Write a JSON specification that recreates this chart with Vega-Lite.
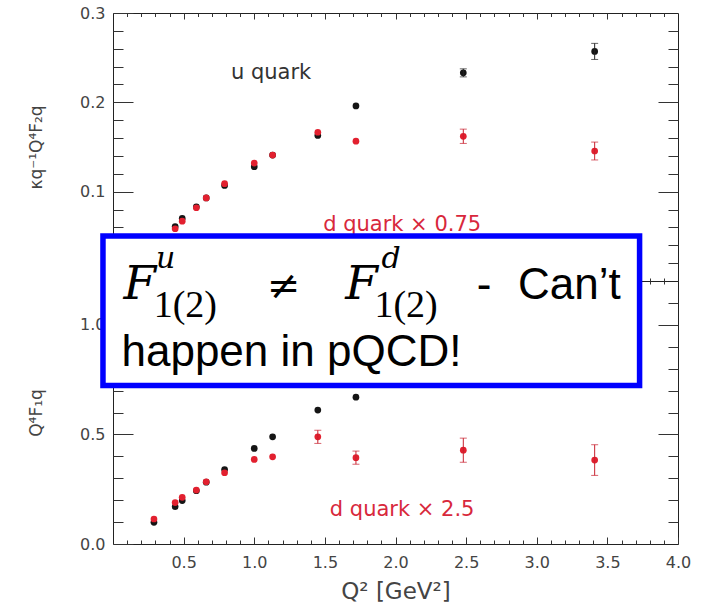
{
  "$schema": "https://vega.github.io/schema/vega-lite/v6.json",
  "background": "white",
  "padding": {"left": 27, "top": 4, "right": 5, "bottom": 5},
  "bounds": "flush",
  "spacing": 0,
  "config": {
    "view": {"stroke": "#222", "strokeWidth": 1},
    "axis": {
      "domain": false, "grid": false, "labelFont": "DejaVu Sans", "labelFontSize": 16,
      "labelColor": "#444", "tickColor": "#333", "tickWidth": 1, "titleFont": "DejaVu Sans",
      "titleFontWeight": "normal", "titleColor": "#444", "labelFlush": false, "labelOverlap": false,
      "format": ".1f"
    }
  },
  "datasets": {
    "f2": [
      {"quark": "u", "q2": 0.29, "val": 0.045, "err": 0},
      {"quark": "u", "q2": 0.44, "val": 0.061, "err": 0},
      {"quark": "u", "q2": 0.49, "val": 0.070, "err": 0},
      {"quark": "u", "q2": 0.59, "val": 0.083, "err": 0},
      {"quark": "u", "q2": 0.66, "val": 0.093, "err": 0},
      {"quark": "u", "q2": 0.79, "val": 0.107, "err": 0},
      {"quark": "u", "q2": 1.00, "val": 0.128, "err": 0},
      {"quark": "u", "q2": 1.13, "val": 0.141, "err": 0},
      {"quark": "u", "q2": 1.45, "val": 0.163, "err": 0},
      {"quark": "u", "q2": 1.72, "val": 0.196, "err": 0},
      {"quark": "u", "q2": 2.48, "val": 0.233, "err": 0.0045},
      {"quark": "u", "q2": 3.41, "val": 0.257, "err": 0.009},
      {"quark": "d", "q2": 0.29, "val": 0.043, "err": 0},
      {"quark": "d", "q2": 0.44, "val": 0.0585, "err": 0},
      {"quark": "d", "q2": 0.49, "val": 0.067, "err": 0},
      {"quark": "d", "q2": 0.59, "val": 0.082, "err": 0},
      {"quark": "d", "q2": 0.66, "val": 0.093, "err": 0},
      {"quark": "d", "q2": 0.79, "val": 0.109, "err": 0},
      {"quark": "d", "q2": 1.00, "val": 0.132, "err": 0},
      {"quark": "d", "q2": 1.13, "val": 0.141, "err": 0},
      {"quark": "d", "q2": 1.45, "val": 0.1665, "err": 0},
      {"quark": "d", "q2": 1.72, "val": 0.1565, "err": 0},
      {"quark": "d", "q2": 2.48, "val": 0.162, "err": 0.008},
      {"quark": "d", "q2": 3.41, "val": 0.1455, "err": 0.01}
    ],
    "f1": [
      {"quark": "u", "q2": 0.29, "val": 0.099, "err": 0},
      {"quark": "u", "q2": 0.44, "val": 0.170, "err": 0},
      {"quark": "u", "q2": 0.49, "val": 0.198, "err": 0},
      {"quark": "u", "q2": 0.59, "val": 0.243, "err": 0},
      {"quark": "u", "q2": 0.66, "val": 0.282, "err": 0},
      {"quark": "u", "q2": 0.79, "val": 0.340, "err": 0},
      {"quark": "u", "q2": 1.00, "val": 0.436, "err": 0},
      {"quark": "u", "q2": 1.13, "val": 0.489, "err": 0},
      {"quark": "u", "q2": 1.45, "val": 0.611, "err": 0},
      {"quark": "u", "q2": 1.72, "val": 0.670, "err": 0},
      {"quark": "u", "q2": 2.48, "val": 0.80, "err": 0},
      {"quark": "u", "q2": 3.41, "val": 0.88, "err": 0},
      {"quark": "d", "q2": 0.29, "val": 0.114, "err": 0},
      {"quark": "d", "q2": 0.44, "val": 0.189, "err": 0},
      {"quark": "d", "q2": 0.49, "val": 0.213, "err": 0},
      {"quark": "d", "q2": 0.59, "val": 0.246, "err": 0},
      {"quark": "d", "q2": 0.66, "val": 0.284, "err": 0},
      {"quark": "d", "q2": 0.79, "val": 0.325, "err": 0},
      {"quark": "d", "q2": 1.00, "val": 0.386, "err": 0},
      {"quark": "d", "q2": 1.13, "val": 0.398, "err": 0},
      {"quark": "d", "q2": 1.45, "val": 0.489, "err": 0.03},
      {"quark": "d", "q2": 1.72, "val": 0.394, "err": 0.03},
      {"quark": "d", "q2": 2.48, "val": 0.428, "err": 0.055},
      {"quark": "d", "q2": 3.41, "val": 0.383, "err": 0.07}
    ]
  },
  "vconcat": [
    {
      "width": 565, "height": 268,
      "resolve": {"axis": {"x": "independent", "y": "independent"}},
      "layer": [
        {
          "data": {"name": "f2"},
          "transform": [{"filter": "datum.quark == 'u'"}],
          "mark": {"type": "circle", "size": 45, "color": "#151515", "opacity": 1},
          "encoding": {
            "x": {"field": "q2", "type": "quantitative", "scale": {"domain": [0, 4], "nice": false},
              "axis": {"orient": "top", "values": [0.5, 1, 1.5, 2, 2.5, 3, 3.5], "offset": -6, "tickSize": 6, "labels": false, "title": null}},
            "y": {"field": "val", "type": "quantitative", "scale": {"domain": [0, 0.3], "nice": false},
              "axis": {"orient": "left", "values": [0.1, 0.2, 0.3], "offset": -20, "tickSize": 20, "labelPadding": 8, "title": "κq⁻¹Q⁴F₂q", "titleFontSize": 17, "titlePadding": 34}}
          }
        },
        {
          "data": {"name": "f2"},
          "transform": [{"filter": "datum.quark == 'd'"}],
          "mark": {"type": "circle", "size": 45, "color": "#e2202f", "opacity": 1},
          "encoding": {
            "x": {"field": "q2", "type": "quantitative",
              "axis": {"orient": "top", "values": [0.1,0.2,0.3,0.4,0.6,0.7,0.8,0.9,1.1,1.2,1.3,1.4,1.6,1.7,1.8,1.9,2.1,2.2,2.3,2.4,2.6,2.7,2.8,2.9,3.1,3.2,3.3,3.4,3.6,3.7,3.8,3.9], "offset": -3.5, "tickSize": 3.5, "labels": false, "title": null}},
            "y": {"field": "val", "type": "quantitative",
              "axis": {"orient": "left", "values": [0.02,0.04,0.06,0.08,0.12,0.14,0.16,0.18,0.22,0.24,0.26,0.28], "offset": -10, "tickSize": 10, "labels": false, "title": null}}
          }
        },
        {
          "data": {"name": "f2"},
          "transform": [{"filter": "datum.quark == 'u' && datum.err > 0"}],
          "mark": {"type": "errorbar", "ticks": {"size": 7}, "color": "#222", "thickness": 1},
          "encoding": {
            "x": {"field": "q2", "type": "quantitative",
              "axis": {"orient": "bottom", "values": [0.5, 1, 1.5, 2, 2.5, 3, 3.5], "offset": -3.5, "tickSize": 3.5, "labels": false, "title": null}},
            "y": {"field": "val", "type": "quantitative",
              "axis": {"orient": "right", "values": [0.1, 0.2], "offset": -20, "tickSize": 20, "labels": false, "title": null}},
            "yError": {"field": "err"}
          }
        },
        {
          "data": {"name": "f2"},
          "transform": [{"filter": "datum.quark == 'd' && datum.err > 0"}],
          "mark": {"type": "errorbar", "ticks": {"size": 7}, "color": "#c8202e", "thickness": 1},
          "encoding": {
            "x": {"field": "q2", "type": "quantitative",
              "axis": {"orient": "bottom", "values": [0.1,0.2,0.3,0.4,0.6,0.7,0.8,0.9,1.1,1.2,1.3,1.4,1.6,1.7,1.8,1.9,2.1,2.2,2.3,2.4,2.6,2.7,2.8,2.9,3.1,3.2,3.3,3.4,3.6,3.7,3.8,3.9], "offset": -3, "tickSize": 3, "labels": false, "title": null}},
            "y": {"field": "val", "type": "quantitative",
              "axis": {"orient": "right", "values": [0.02,0.04,0.06,0.08,0.12,0.14,0.16,0.18,0.22,0.24,0.26,0.28], "offset": -10, "tickSize": 10, "labels": false, "title": null}},
            "yError": {"field": "err"}
          }
        },
        {
          "data": {"values": [{"label": "u quark", "q2": 1.119, "val": 0.2265}]},
          "mark": {"type": "text", "font": "DejaVu Sans", "fontSize": 21, "color": "#333", "align": "center", "baseline": "alphabetic"},
          "encoding": {
            "x": {"field": "q2", "type": "quantitative", "axis": null},
            "y": {"field": "val", "type": "quantitative", "axis": null},
            "text": {"field": "label"}
          }
        },
        {
          "data": {"values": [{"label": "d quark × 0.75", "q2": 2.047, "val": 0.056}]},
          "mark": {"type": "text", "font": "DejaVu Sans", "fontSize": 21, "color": "#d8283c", "align": "center", "baseline": "alphabetic"},
          "encoding": {
            "x": {"field": "q2", "type": "quantitative", "axis": null},
            "y": {"field": "val", "type": "quantitative", "axis": null},
            "text": {"field": "label"}
          }
        }
      ]
    },
    {
      "width": 565, "height": 263,
      "resolve": {"axis": {"x": "independent", "y": "independent"}},
      "layer": [
        {
          "data": {"name": "f1"},
          "transform": [{"filter": "datum.quark == 'u'"}],
          "mark": {"type": "circle", "size": 45, "color": "#151515", "opacity": 1},
          "encoding": {
            "x": {"field": "q2", "type": "quantitative", "scale": {"domain": [0, 4], "nice": false},
              "axis": {"orient": "bottom", "values": [0.5, 1, 1.5, 2, 2.5, 3, 3.5, 4], "offset": -7, "tickSize": 7, "labelPadding": 10, "title": "Q² [GeV²]", "titleFontSize": 23, "titlePadding": 10}},
            "y": {"field": "val", "type": "quantitative", "scale": {"domain": [0, 1.2], "nice": false},
              "axis": {"orient": "left", "values": [0, 0.5, 1.0], "offset": -20, "tickSize": 20, "labelPadding": 8, "title": "Q⁴F₁q", "titleFontSize": 17, "titlePadding": 34}}
          }
        },
        {
          "data": {"name": "f1"},
          "transform": [{"filter": "datum.quark == 'd'"}],
          "mark": {"type": "circle", "size": 45, "color": "#e2202f", "opacity": 1},
          "encoding": {
            "x": {"field": "q2", "type": "quantitative",
              "axis": {"orient": "bottom", "values": [0.1,0.2,0.3,0.4,0.6,0.7,0.8,0.9,1.1,1.2,1.3,1.4,1.6,1.7,1.8,1.9,2.1,2.2,2.3,2.4,2.6,2.7,2.8,2.9,3.1,3.2,3.3,3.4,3.6,3.7,3.8,3.9], "offset": -4, "tickSize": 4, "labels": false, "title": null}},
            "y": {"field": "val", "type": "quantitative",
              "axis": {"orient": "left", "values": [0.1,0.2,0.3,0.4,0.6,0.7,0.8,0.9,1.1], "offset": -10, "tickSize": 10, "labels": false, "title": null}}
          }
        },
        {
          "data": {"name": "f1"},
          "transform": [{"filter": "datum.quark == 'd' && datum.err > 0"}],
          "mark": {"type": "errorbar", "ticks": {"size": 7}, "color": "#c8202e", "thickness": 1},
          "encoding": {
            "x": {"field": "q2", "type": "quantitative",
              "axis": {"orient": "top", "values": [0.5, 1, 1.5, 2, 2.5, 3, 3.5], "offset": -3.5, "tickSize": 3.5, "labels": false, "title": null}},
            "y": {"field": "val", "type": "quantitative",
              "axis": {"orient": "right", "values": [0.5, 1.0], "offset": -20, "tickSize": 20, "labels": false, "title": null}},
            "yError": {"field": "err"}
          }
        },
        {
          "data": {"values": [{"label": "d quark × 2.5", "q2": 2.047, "val": 0.126}]},
          "mark": {"type": "text", "font": "DejaVu Sans", "fontSize": 21, "color": "#d8283c", "align": "center", "baseline": "alphabetic"},
          "encoding": {
            "x": {"field": "q2", "type": "quantitative",
              "axis": {"orient": "top", "values": [0.1,0.2,0.3,0.4,0.6,0.7,0.8,0.9,1.1,1.2,1.3,1.4,1.6,1.7,1.8,1.9,2.1,2.2,2.3,2.4,2.6,2.7,2.8,2.9,3.1,3.2,3.3,3.4,3.6,3.7,3.8,3.9], "offset": -3, "tickSize": 3, "labels": false, "title": null}},
            "y": {"field": "val", "type": "quantitative",
              "axis": {"orient": "right", "values": [0.1,0.2,0.3,0.4,0.6,0.7,0.8,0.9,1.1], "offset": -10, "tickSize": 10, "labels": false, "title": null}},
            "text": {"field": "label"}
          }
        },
        {
          "data": {"values": [{"x1": -0.071, "x2": 3.728, "y1": 1.405, "y2": 0.723}]},
          "mark": {"type": "rect", "fill": "white", "stroke": "#0000ff", "strokeWidth": 5.5},
          "encoding": {
            "x": {"field": "x1", "type": "quantitative", "axis": null},
            "x2": {"field": "x2"},
            "y": {"field": "y1", "type": "quantitative", "axis": null},
            "y2": {"field": "y2"}
          }
        },
        {
          "data": {"values": [{"t": "F", "x": 0.0746, "y": 1.12}, {"t": "F", "x": 1.645, "y": 1.12}]},
          "mark": {"type": "text", "font": "DejaVu Serif", "fontStyle": "italic", "fontSize": 47, "color": "black", "align": "left", "baseline": "alphabetic"},
          "encoding": {
            "x": {"field": "x", "type": "quantitative", "axis": null},
            "y": {"field": "y", "type": "quantitative", "axis": null},
            "text": {"field": "t"}
          }
        },
        {
          "data": {"values": [{"t": "u", "x": 0.305, "y": 1.26}, {"t": "d", "x": 1.9, "y": 1.26}]},
          "mark": {"type": "text", "font": "DejaVu Serif", "fontStyle": "italic", "fontSize": 30, "color": "black", "align": "left", "baseline": "alphabetic"},
          "encoding": {
            "x": {"field": "x", "type": "quantitative", "axis": null},
            "y": {"field": "y", "type": "quantitative", "axis": null},
            "text": {"field": "t"}
          }
        },
        {
          "data": {"values": [{"t": "1(2)", "x": 0.288, "y": 1.038}, {"t": "1(2)", "x": 1.851, "y": 1.038}]},
          "mark": {"type": "text", "font": "Liberation Serif", "fontSize": 38, "color": "black", "align": "left", "baseline": "alphabetic"},
          "encoding": {
            "x": {"field": "x", "type": "quantitative", "axis": null},
            "y": {"field": "y", "type": "quantitative", "axis": null},
            "text": {"field": "t"}
          }
        },
        {
          "data": {"values": [{"t": "≠", "x": 1.091, "y": 1.12}]},
          "mark": {"type": "text", "font": "DejaVu Serif", "fontSize": 40, "color": "black", "align": "left", "baseline": "alphabetic"},
          "encoding": {
            "x": {"field": "x", "type": "quantitative", "axis": null},
            "y": {"field": "y", "type": "quantitative", "axis": null},
            "text": {"field": "t"}
          }
        },
        {
          "data": {"values": [{"t": "-", "x": 2.576, "y": 1.12}, {"t": "Can’t", "x": 2.867, "y": 1.12}, {"t": "happen in pQCD!", "x": 0.06, "y": 0.81}]},
          "mark": {"type": "text", "font": "Liberation Sans", "fontSize": 44, "color": "black", "align": "left", "baseline": "alphabetic"},
          "encoding": {
            "x": {"field": "x", "type": "quantitative", "axis": null},
            "y": {"field": "y", "type": "quantitative", "axis": null},
            "text": {"field": "t"}
          }
        }
      ]
    }
  ]
}
